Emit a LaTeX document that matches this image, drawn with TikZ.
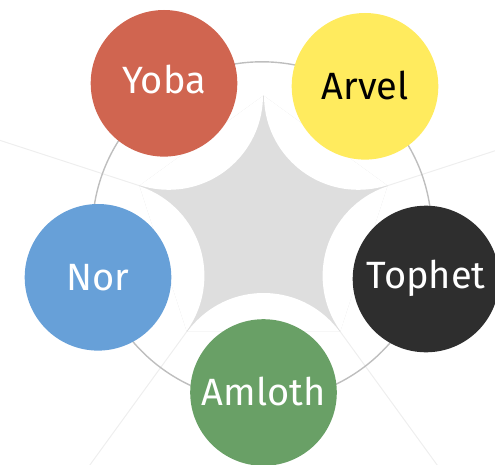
\documentclass[tikz,border=0pt]{standalone}
\usepackage{fontspec}
\setmainfont{Fira Sans}
\usetikzlibrary{calc}
\definecolor{yobac}{HTML}{D06550}
\definecolor{arvelc}{HTML}{FFEB5E}
\definecolor{tophetc}{HTML}{2E2E2E}
\definecolor{amlothc}{HTML}{69A066}
\definecolor{norc}{HTML}{67A0D8}
\definecolor{starc}{HTML}{DEDEDE}
\definecolor{ringc}{HTML}{BEBEBE}
\definecolor{rayc}{HTML}{EEEEEE}
\begin{document}
\begin{tikzpicture}[x=1pt,y=1pt,
  bubble/.style={circle, minimum size=146.6pt, inner sep=0pt,
    font=\fontsize{38}{42}\selectfont, text height=26pt, text depth=0pt},
  rayline/.style={draw=rayc, line width=1pt},
  ringline/.style={draw=ringc, line width=1.4pt}]
\useasboundingbox (0,0) rectangle (495,464);
\coordinate (c) at (263.5,238);
\coordinate (o) at (262,232.5);
% faint radial lines
\begin{scope}
  \clip (0,0) rectangle (495,464);
  \foreach \a in {162,18,234,306}
    \draw[rayline] (c) -- ++(\a:420);
\end{scope}
% central star: pentagon of tips, carved by white discs
\path (c) ++(90:130.5) coordinate (t1)
      (c) ++(162:130.5) coordinate (t2)
      (c) ++(234:130.5) coordinate (t3)
      (c) ++(306:130.5) coordinate (t4)
      (c) ++(18:130.5) coordinate (t5);
\fill[starc] (t1) -- (t2) -- (t3) -- (t4) -- (t5) -- cycle;
\begin{scope}
  \clip (t1) -- (t2) -- (t3) -- (t4) -- (t5) -- cycle;
  \foreach \a in {126,54,-18,-90,198}
    \fill[white] (c) ++(\a:161.3) circle (94.3);
\end{scope}
% outline circle
\draw[ringline] (o) circle (169.7);
% nodes
\node[bubble, fill=yobac, text=white, text depth=6pt] (yoba) at (164,380.7) {Yoba};
\node[bubble, fill=arvelc, text=black] (arvel) at (365,377.7) {Arvel};
\node[bubble, fill=tophetc, text=white, text depth=8pt] (tophet) at (426,185) {Tophet};
\node[bubble, fill=amlothc, text=white] (amloth) at (263.5,71.5) {Amloth};
\node[bubble, fill=norc, text=white] (nor) at (98,186.7) {Nor};
\end{tikzpicture}
\end{document}
